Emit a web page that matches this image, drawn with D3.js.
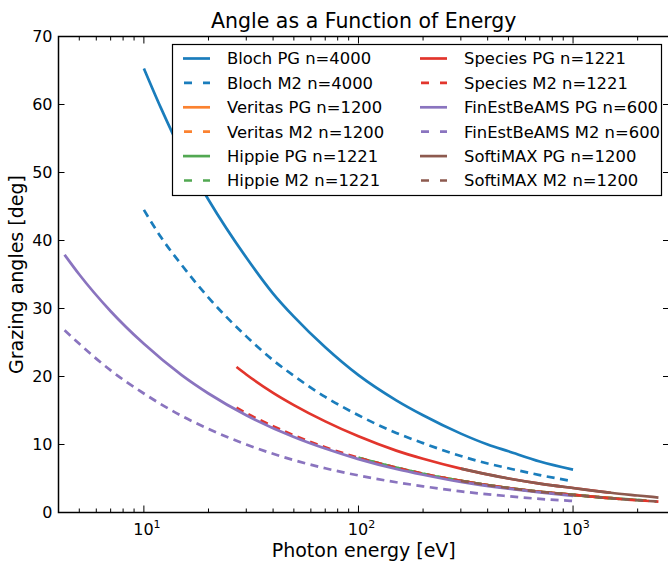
<!DOCTYPE html>
<html>
<head>
<meta charset="utf-8">
<script src="https://cdn.jsdelivr.net/npm/d3@7"></script>
<style>
  body { margin: 0; background: #fff; }
  text { font-family: "DejaVu Sans", sans-serif; fill: #000; }
</style>
</head>
<body>
<div id="chart"></div>
<script>
// series names, in legend order
const names = [
    "Bloch PG n=4000", "Bloch M2 n=4000",
    "Veritas PG n=1200", "Veritas M2 n=1200",
    "Hippie PG n=1221", "Hippie M2 n=1221",
    "Species PG n=1221", "Species M2 n=1221",
    "FinEstBeAMS PG n=600", "FinEstBeAMS M2 n=600",
    "SoftiMAX PG n=1200", "SoftiMAX M2 n=1200"
];

// photon energy [eV] and grazing angle [deg]
const blochE    = [10, 12, 15, 20, 30, 40, 50, 70, 100, 150, 200, 300, 400, 500, 700, 1000];
const blochPG   = [65.3, 59.5, 53.0, 46.0, 37.5, 32.2, 28.8, 24.3, 20.2, 16.5, 14.3, 11.6, 10.0, 9.0, 7.5, 6.3];
const blochM2   = [44.5, 40.5, 36.4, 31.6, 25.9, 22.4, 20.1, 17.0, 14.3, 11.7, 10.2, 8.3, 7.2, 6.5, 5.5, 4.6];

const finE      = [4.27, 5, 7, 10, 15, 20, 30, 50, 70, 100, 150, 200, 300, 500, 700, 1000];
const finPG     = [37.9, 35.0, 29.6, 24.8, 20.2, 17.5, 14.3, 11.1, 9.4, 7.85, 6.4, 5.55, 4.5, 3.5, 2.95, 2.45];
const finM2     = [26.8, 24.8, 20.9, 17.5, 14.2, 12.3, 10.0, 7.7, 6.5, 5.45, 4.45, 3.85, 3.1, 2.4, 2.0, 1.7];

const speciesE  = [27, 30, 40, 50, 70, 100, 150, 200, 300, 500, 700, 1000, 1500];
const speciesPG = [21.4, 20.3, 17.6, 15.8, 13.4, 11.2, 9.1, 7.9, 6.45, 5.0, 4.25, 3.6, 2.9];
const speciesM2E = [27, 30, 40, 50, 70, 100, 150, 200, 300, 500, 700, 1000, 1500, 2000, 2500];
const speciesM2 = [15.4, 14.6, 12.7, 11.35, 9.6, 8.05, 6.6, 5.7, 4.65, 3.6, 3.05, 2.6, 2.1, 1.8, 1.6];

const veritasE  = [250, 300, 500, 700, 1000, 1600];
const veritasPG = [5.1, 4.65, 3.6, 3.05, 2.6, 2.05];
const veritasM2 = [5.1, 4.65, 3.6, 3.05, 2.6, 2.05];

const hippieE   = [100, 150, 200, 300, 500, 700, 1000, 1500, 2200];
const hippiePG  = [8.05, 6.6, 5.7, 4.65, 3.6, 3.05, 2.6, 2.1, 1.75];
const hippieM2  = [8.05, 6.6, 5.7, 4.65, 3.6, 3.05, 2.6, 2.1, 1.75];

const softiE    = [300, 500, 700, 1000, 1500, 2000, 2500];
const softiPG   = [6.45, 5.0, 4.25, 3.6, 2.9, 2.5, 2.2];
const softiM2   = [4.65, 3.6, 3.05, 2.6, 2.1, 1.8, 1.6];

const yTicks = [0, 10, 20, 30, 40, 50, 60, 70];
const xMajor = [10, 100, 1000];

const seriesE = [blochE, blochE, veritasE, veritasE, hippieE, hippieE,
                 speciesE, speciesM2E, finE, finE, softiE, softiE];
const seriesV = [blochPG, blochM2, veritasPG, veritasM2, hippiePG, hippieM2,
                 speciesPG, speciesM2, finPG, finM2, softiPG, softiM2];

// styling
const colors = ["#1a7dbc", "#1a7dbc", "#fb8230", "#fb8230", "#52a852", "#52a852",
                "#e2352c", "#e2352c", "#8a74bf", "#8a74bf", "#8d5a4f", "#8d5a4f"];
const dashed = i => i % 2 === 1;

const width = 668, height = 564;
const margin = { left: 58.5, right: 669, top: 36.5, bottom: 512.5 };

const svg = d3.select("#chart").append("svg")
    .attr("width", width)
    .attr("height", height);

const x = d3.scaleLog().domain([4, 2800]).range([margin.left, margin.right]);
const y = d3.scaleLinear().domain([0, 70]).range([margin.bottom, margin.top]);

svg.append("clipPath").attr("id", "clip")
    .append("rect")
    .attr("x", margin.left).attr("y", margin.top)
    .attr("width", margin.right - margin.left)
    .attr("height", margin.bottom - margin.top);

// lines
const line = d3.line()
    .x(d => x(d[0]))
    .y(d => y(d[1]))
    .curve(d3.curveMonotoneX);

const plot = svg.append("g").attr("clip-path", "url(#clip)");
names.forEach((n, i) => {
    const pts = seriesE[i].map((e, k) => [e, seriesV[i][k]]);
    plot.append("path")
        .datum(pts)
        .attr("d", line)
        .attr("fill", "none")
        .attr("stroke", colors[i])
        .attr("stroke-width", 2.7)
        .attr("stroke-dasharray", dashed(i) ? "8,5.5" : null);
});

// ticks
const minor = [];
[1, 10, 100, 1000].forEach(d => {
    for (let k = 2; k <= 9; k++) {
        const v = d * k;
        if (v >= 4 && v <= 2800) minor.push(v);
    }
});

const tg = svg.append("g").attr("stroke", "#000").attr("stroke-width", 1);
minor.forEach(v => {
    tg.append("line").attr("x1", x(v)).attr("x2", x(v))
        .attr("y1", margin.bottom).attr("y2", margin.bottom - 4);
    tg.append("line").attr("x1", x(v)).attr("x2", x(v))
        .attr("y1", margin.top).attr("y2", margin.top + 4);
});
xMajor.forEach(v => {
    tg.append("line").attr("x1", x(v)).attr("x2", x(v))
        .attr("y1", margin.bottom).attr("y2", margin.bottom - 7);
    tg.append("line").attr("x1", x(v)).attr("x2", x(v))
        .attr("y1", margin.top).attr("y2", margin.top + 7);
});
yTicks.forEach(v => {
    tg.append("line").attr("x1", margin.left).attr("x2", margin.left + 6)
        .attr("y1", y(v)).attr("y2", y(v));
    tg.append("line").attr("x1", margin.right).attr("x2", margin.right - 6)
        .attr("y1", y(v)).attr("y2", y(v));
});

// frame
svg.append("rect")
    .attr("x", margin.left).attr("y", margin.top)
    .attr("width", margin.right - margin.left)
    .attr("height", margin.bottom - margin.top)
    .attr("fill", "none").attr("stroke", "#000").attr("stroke-width", 1.5);

// tick labels
yTicks.forEach(v => {
    svg.append("text")
        .attr("x", margin.left - 6).attr("y", y(v))
        .attr("dy", "0.36em")
        .attr("text-anchor", "end")
        .attr("font-size", 16)
        .text(v);
});
xMajor.forEach(v => {
    const t = svg.append("text")
        .attr("x", x(v) + 3).attr("y", margin.bottom + 22)
        .attr("text-anchor", "middle")
        .attr("font-size", 16);
    t.append("tspan").text("10");
    t.append("tspan").attr("font-size", 11).attr("dy", -7).text(Math.log10(v));
});

// titles
svg.append("text")
    .attr("x", (margin.left + margin.right) / 2).attr("y", 28)
    .attr("text-anchor", "middle").attr("font-size", 20.5)
    .text("Angle as a Function of Energy");
svg.append("text")
    .attr("x", (margin.left + margin.right) / 2).attr("y", 557)
    .attr("text-anchor", "middle").attr("font-size", 19)
    .text("Photon energy [eV]");
svg.append("text")
    .attr("transform", `translate(23,${(margin.top + margin.bottom) / 2}) rotate(-90)`)
    .attr("text-anchor", "middle").attr("font-size", 19)
    .text("Grazing angles [deg]");

// legend
const lg = svg.append("g");
lg.append("rect")
    .attr("x", 172.5).attr("y", 44.5)
    .attr("width", 489).attr("height", 151)
    .attr("fill", "#fff").attr("stroke", "#000").attr("stroke-width", 1.2);
names.forEach((n, i) => {
    const col = Math.floor(i / 6), row = i % 6;
    const lx = col === 0 ? 183 : 420;
    const ly = 58.5 + row * 24.4;
    lg.append("line")
        .attr("x1", lx).attr("x2", lx + 27)
        .attr("y1", ly).attr("y2", ly)
        .attr("stroke", colors[i]).attr("stroke-width", 2.7)
        .attr("stroke-dasharray", dashed(i) ? "8,11" : null)
        .attr("stroke-dashoffset", dashed(i) ? -1 : null);
    lg.append("text")
        .attr("x", lx + 44).attr("y", ly)
        .attr("dy", "0.36em")
        .attr("font-size", 16.4)
        .text(n);
});
</script>
</body>
</html>
